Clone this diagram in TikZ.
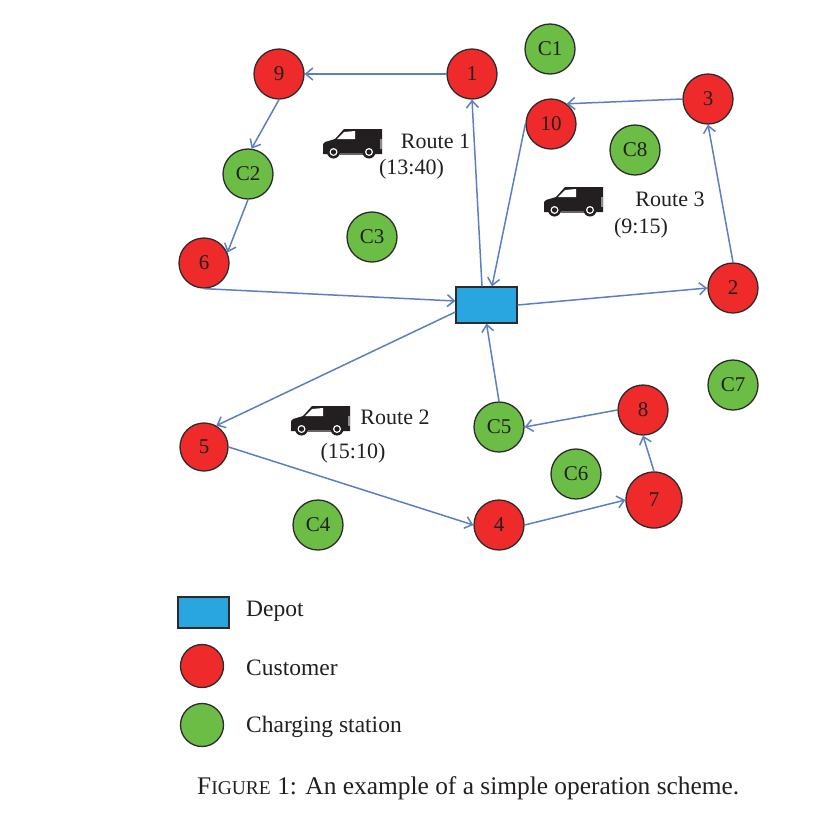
\documentclass[tikz,border=0pt]{standalone}
\usepackage{fontspec}
\setmainfont{Liberation Serif}
\usetikzlibrary{arrows.meta}
\definecolor{custred}{HTML}{EE2A2A}
\definecolor{chargreen}{HTML}{6BBD45}
\definecolor{depotblue}{HTML}{29A5DF}
\definecolor{routeblue}{HTML}{5B80C2}
\definecolor{outl}{HTML}{2B2B2B}
\definecolor{txt}{HTML}{231F20}
\tikzset{
  x=1pt,y=-1pt,
  every node/.style={text=txt,font=\fontsize{22}{24}\selectfont},
  cust/.style={circle,draw=outl,line width=1.3pt,fill=custred,minimum size=50pt,inner sep=0pt,font=\fontsize{21}{22}\selectfont},
  chrg/.style={circle,draw=outl,line width=1.3pt,fill=chargreen,minimum size=50pt,inner sep=0pt,font=\fontsize{21}{22}\selectfont},
  depotbox/.style={rectangle,draw=outl,line width=1.3pt,fill=depotblue,inner sep=0pt,minimum width=61pt,minimum height=36pt},
  legc/.style={minimum size=43pt},
  rt/.style={draw=routeblue,line width=1.5pt,-{Straight Barb[length=7pt,width=12pt,line width=1.5pt]}},
  lab/.style={inner sep=0pt,anchor=center},
  legt/.style={lab,anchor=west,font=\fontsize{23.5}{26}\selectfont},
  van/.pic={
    \fill[txt] (0,15) -- (2,13) -- (12,10) -- (21,0) -- (59,0) -- (59,25) -- (0,25) -- cycle;
    \fill[white] (14,10) -- (21,3) -- (32,2) -- (32,10) -- cycle;
    \fill[white!55!black] (57,10) rectangle (59,20);
    \fill[white!40!black] (17,24) rectangle (40,25.5);
    \foreach \wx in {10.5,46}{
      \fill[txt] (\wx,23) circle[radius=6.5];
      \fill[white] (\wx,23) circle[radius=4];
      \fill[txt] (\wx,23) circle[radius=2.6];
    }
  }
}
\begin{document}
\begin{tikzpicture}
\useasboundingbox (0,0) rectangle (821,812);
\fill[white] (0,0) rectangle (821,812);
\node[cust] (n9) at (279,74) {9};
\node[cust] (n1) at (472,74) {1};
\node[chrg] (c1) at (550,49) {C1};
\node[cust] (n10) at (551,124) {10};
\node[cust] (n3) at (708,99) {3};
\node[chrg] (c8) at (635,150) {C8};
\node[chrg] (c2) at (248,174) {C2};
\node[cust] (n6) at (204,263) {6};
\node[chrg] (c3) at (372,237) {C3};
\node[depotbox] (depot) at (486.5,305) {};
\node[cust] (n2) at (733,288) {2};
\node[chrg] (c7) at (733,385) {C7};
\node[cust] (n8) at (643,410) {8};
\node[chrg] (c5) at (499,427) {C5};
\node[cust,minimum size=48pt] (n5) at (204,447) {5};
\node[chrg] (c6) at (576,474) {C6};
\node[cust,minimum size=56pt] (n7) at (654,500) {7};
\node[cust] (n4) at (499,525) {4};
\node[chrg] (c4) at (318,525) {C4};
\draw[rt] (n1.west) -- (n9.east);
\draw[rt] (n9.south) -- (c2.82);
\draw[rt] (c2.south) -- (n6.24);
\draw[rt] (n6.south) -- ([yshift=4pt]depot.west);
\draw[rt] ([xshift=-4.5pt]depot.north) -- (n1.south);
\draw[rt] (n10.west) -- ([xshift=5.5pt]depot.north);
\draw[rt] (n3.west) -- (n10.52);
\draw[rt] (n2.north) -- (n3.south);
\draw[rt] (depot.east) -- (n2.west);
\draw[rt] ([yshift=-7pt]depot.west) -- (n5.60);
\draw[rt] (n5.east) -- (n4.west);
\draw[rt] (n4.east) -- (n7.west);
\draw[rt] (n7.north) -- (n8.south);
\draw[rt] (n8.west) -- (c5.east);
\draw[rt] (c5.north) -- (depot.south);
\pic at (323,129) {van};
\pic at (544,187) {van};
\pic at (291,406) {van};
\node[lab] (r1) at (435.5,141) {Route 1};
\node[lab] (t1) at (411.5,169) {(13:40)};
\node[lab] (r3) at (670,199) {Route 3};
\node[lab] (t3) at (641,228) {(9:15)};
\node[lab] (r2) at (395,417) {Route 2};
\node[lab] (t2) at (353,453) {(15:10)};
\node[depotbox,minimum width=51pt,minimum height=31pt] (ld) at (203.5,612.5) {};
\node[cust,legc] (lc) at (202,666) {};
\node[chrg,legc] (lg) at (202,725) {};
\node[legt] (tl1) at (246,611) {Depot};
\node[legt] (tl2) at (246,668) {Customer};
\node[legt] (tl3) at (246,727) {Charging station};
\node[lab,anchor=west,font=\fontsize{25.4}{28}\selectfont] (cap) at (197,788) {F{\fontsize{19.5}{20}\selectfont IGURE} 1: An example of a simple operation scheme.};
\end{tikzpicture}
\end{document}
